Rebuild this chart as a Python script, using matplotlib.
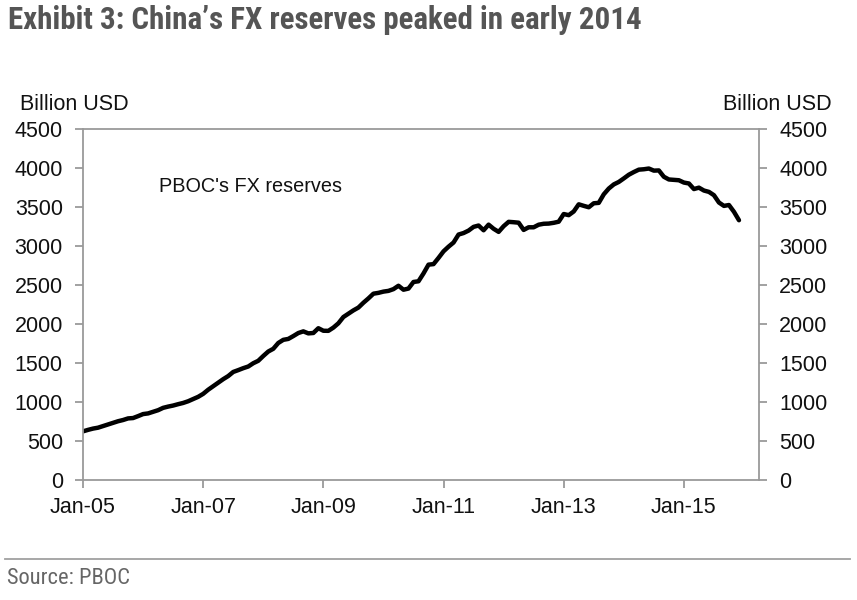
import matplotlib
matplotlib.use("Agg")
import matplotlib.pyplot as plt
from matplotlib import font_manager
from matplotlib.lines import Line2D

# ---- data (billion USD, monthly Jan-2005 .. Dec-2015) ----
reserves = [
    623.6, 642.6, 659.1, 670.6, 691.0, 711.0, 732.7, 753.3, 769.0, 789.6, 794.3, 818.9,
    845.2, 853.7, 875.1, 895.0, 925.0, 941.1, 954.5, 972.0, 987.9, 1009.6, 1038.5, 1066.3,
    1104.7, 1157.4, 1202.0, 1246.6, 1292.7, 1332.6, 1385.2, 1408.6, 1433.6, 1454.9, 1497.0, 1528.2,
    1589.8, 1647.1, 1682.2, 1756.7, 1797.0, 1808.8, 1845.2, 1884.3, 1905.6, 1879.7, 1884.7, 1946.0,
    1913.5, 1912.1, 1953.7, 2008.9, 2089.5, 2131.6, 2174.6, 2210.8, 2272.6, 2328.3, 2388.8, 2399.2,
    2415.2, 2424.6, 2447.1, 2490.5, 2439.5, 2454.3, 2538.8, 2547.8, 2648.3, 2760.9, 2767.8, 2847.3,
    2931.7, 2991.4, 3044.7, 3146.9, 3166.2, 3197.5, 3245.3, 3262.5, 3201.7, 3273.8, 3220.9, 3181.1,
    3253.7, 3309.7, 3305.0, 3298.7, 3206.1, 3240.0, 3239.8, 3273.0, 3285.1, 3287.4, 3297.3, 3311.6,
    3410.0, 3395.4, 3442.6, 3534.5, 3514.8, 3496.7, 3547.8, 3553.0, 3662.7, 3736.6, 3789.5, 3821.3,
    3866.5, 3913.7, 3948.1, 3978.8, 3983.9, 3993.2, 3966.3, 3968.8, 3887.7, 3852.9, 3847.3, 3843.0,
    3813.4, 3801.5, 3730.0, 3748.1, 3711.1, 3693.8, 3651.3, 3557.4, 3514.1, 3525.5, 3438.3, 3330.4,
]
x_tick_labels = ["Jan-05", "Jan-07", "Jan-09", "Jan-11", "Jan-13", "Jan-15"]
y_ticks = [0, 500, 1000, 1500, 2000, 2500, 3000, 3500, 4000, 4500]
series_label = "PBOC's FX reserves"
unit_label = "Billion USD"
title = "Exhibit 3: China\u2019s FX reserves peaked in early 2014"
source = "Source: PBOC"

months = list(range(len(reserves)))
x_ticks = [24 * i for i in range(len(x_tick_labels))]

avail = {f.name for f in font_manager.fontManager.ttflist}
if "Roboto Condensed" in avail:
    title_font = dict(family="Roboto Condensed", fontsize=22.3)
    src_font = dict(family="Roboto Condensed", fontsize=16.2)
elif "Liberation Sans Narrow" in avail:
    title_font = dict(family="Liberation Sans Narrow", fontsize=20)
    src_font = dict(family="Liberation Sans Narrow", fontsize=14)
else:
    title_font = dict(family="Liberation Sans", fontsize=19)
    src_font = dict(family="Liberation Sans", fontsize=13)

body = "Liberation Sans" if "Liberation Sans" in avail else "DejaVu Sans"
plt.rcParams["font.family"] = body

fig = plt.figure(figsize=(8.57, 6.0), dpi=100)
ax = fig.add_axes([83 / 857, 120 / 600, (759 - 83) / 857, (480 - 129) / 600])

ax.plot(months, reserves, color="black", lw=3.2, solid_joinstyle="round", solid_capstyle="round")
ax.set_xlim(0, 135)
ax.set_ylim(0, 4500)
ax.set_xticks(x_ticks)
ax.set_xticklabels(x_tick_labels)
ax.set_yticks(y_ticks)
ax.set_yticklabels([str(v) for v in y_ticks])

spine_c = "#9a9a9a"
for s in ax.spines.values():
    s.set_color(spine_c)
    s.set_linewidth(1.3)

ax.tick_params(axis="both", colors=spine_c, labelcolor="#111111", labelsize=15.5,
               width=1.3, length=5.5)
ax.tick_params(axis="y", pad=9, left=True, right=True, labelleft=True, labelright=True)
ax.tick_params(axis="x", pad=7)

ax.text(0.113, 0.835, series_label, transform=ax.transAxes, fontsize=14.3,
        color="#111111", va="center", ha="left")

fig.text(20 / 857, 1 - 104 / 600, unit_label, fontsize=15.5, color="#111111",
         ha="left", va="center")
fig.text(832 / 857, 1 - 104 / 600, unit_label, fontsize=15.5, color="#111111",
         ha="right", va="center")

fig.text(8 / 857, 1 - 20 / 600, title, fontweight="bold",
         color="#555555", ha="left", va="center", **title_font)
fig.add_artist(Line2D([5 / 857, 850 / 857], [1 - 559 / 600, 1 - 559 / 600],
                      color="#a0a0a0", lw=1.3, transform=fig.transFigure))
fig.text(7 / 857, 1 - 579 / 600, source,
         color="#666666", ha="left", va="center", **src_font)

fig.savefig("out.png", dpi=100)
